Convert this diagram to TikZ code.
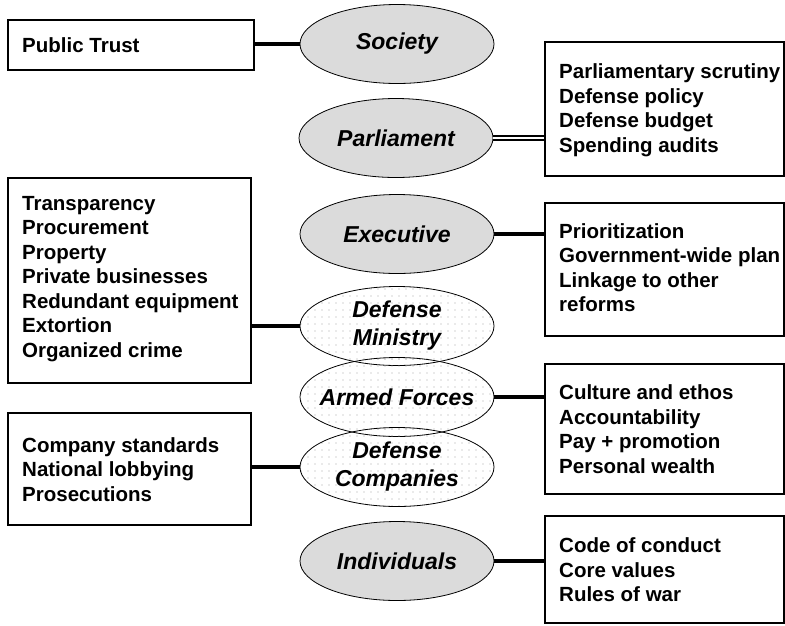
\documentclass[tikz,border=0pt]{standalone}
\usepackage{fontspec}
\setmainfont{Liberation Sans}
\usetikzlibrary{shapes.geometric,patterns.meta}
\tikzset{
  listbox/.style={draw, line width=2.4pt, rectangle, inner sep=0pt, anchor=north west},
  listtext/.style={anchor=west, inner sep=0pt, align=left,
    font=\bfseries\fontsize{20.5}{24.5}\selectfont},
  ellsolid/.style={ellipse, draw, line width=0.8pt, fill=black!14, minimum width=194pt,
    minimum height=79pt, inner xsep=-20pt, inner ysep=0pt, align=center,
    font=\bfseries\itshape\fontsize{23}{28}\selectfont},
  elldot/.style={ellsolid, fill=none, pattern={Dots[radius=0.55pt,distance=7pt]}, pattern color=black!35},
  conn/.style={line width=4.5pt},
  dconn/.style={line width=2pt, double, double distance=1.1pt}
}
\begin{document}
\begin{tikzpicture}[x=1pt,y=-1pt]
\useasboundingbox (0,0) rectangle (785,625);
% boxes
\node[listbox, minimum width=246pt, minimum height=50pt] (pt) at (7,19) {};
\node[listtext] (pttxt) at ([xshift=15pt]pt.west) {Public Trust};
\node[listbox, minimum width=239pt, minimum height=134pt] (parbox) at (544,41) {};
\node[listtext] (partxt) at ([xshift=15pt,yshift=-1pt]parbox.west)
  {Parliamentary scrutiny\\Defense policy\\Defense budget\\Spending audits};
\node[listbox, minimum width=239pt, minimum height=133pt] (exbox) at (544,202) {};
\node[listtext] (extxt) at ([xshift=15pt,yshift=2pt]exbox.west)
  {Prioritization\\Government-wide plan\\Linkage to other\\reforms};
\node[listbox, minimum width=243pt, minimum height=205pt] (trbox) at (7,177) {};
\node[listtext] (trtxt) at ([xshift=15pt,yshift=2pt]trbox.west)
  {Transparency\\Procurement\\Property\\Private businesses\\Redundant equipment\\Extortion\\Organized crime};
\node[listbox, minimum width=239pt, minimum height=130pt] (cubox) at (544,363) {};
\node[listtext] (cutxt) at ([xshift=15pt]cubox.west)
  {Culture and ethos\\Accountability\\Pay + promotion\\Personal wealth};
\node[listbox, minimum width=243pt, minimum height=112pt] (cobox) at (7,412) {};
\node[listtext] (cotxt) at ([xshift=15pt]cobox.west)
  {Company standards\\National lobbying\\Prosecutions};
\node[listbox, minimum width=239pt, minimum height=107pt] (ccbox) at (544,515) {};
\node[listtext] (cctxt) at ([xshift=15pt]ccbox.west)
  {Code of conduct\\Core values\\Rules of war};
% ellipses
\node[ellsolid] (soc) at (397,44) {Society};
\node[ellsolid] (par) at (396,138) {Parliament};
\node[ellsolid] (exe) at (397,234) {Executive};
\node[elldot] (dm) at (397,326) {Defense\\Ministry};
\node[elldot] (af) at (397,397) {Armed Forces};
\node[elldot] (dc) at (397,467) {Defense\\Companies};
\node[ellsolid] (ind) at (397,561) {Individuals};
% connectors
\draw[conn] (soc.west -| pt.east) -- (soc.west);
\draw[dconn] (par.east) -- (par.east -| parbox.west);
\draw[conn] (exe.east) -- (exe.east -| exbox.west);
\draw[conn] (dm.west -| trbox.east) -- (dm.west);
\draw[conn] (af.east) -- (af.east -| cubox.west);
\draw[conn] (dc.west -| cobox.east) -- (dc.west);
\draw[conn] (ind.east) -- (ind.east -| ccbox.west);
\end{tikzpicture}
\end{document}
